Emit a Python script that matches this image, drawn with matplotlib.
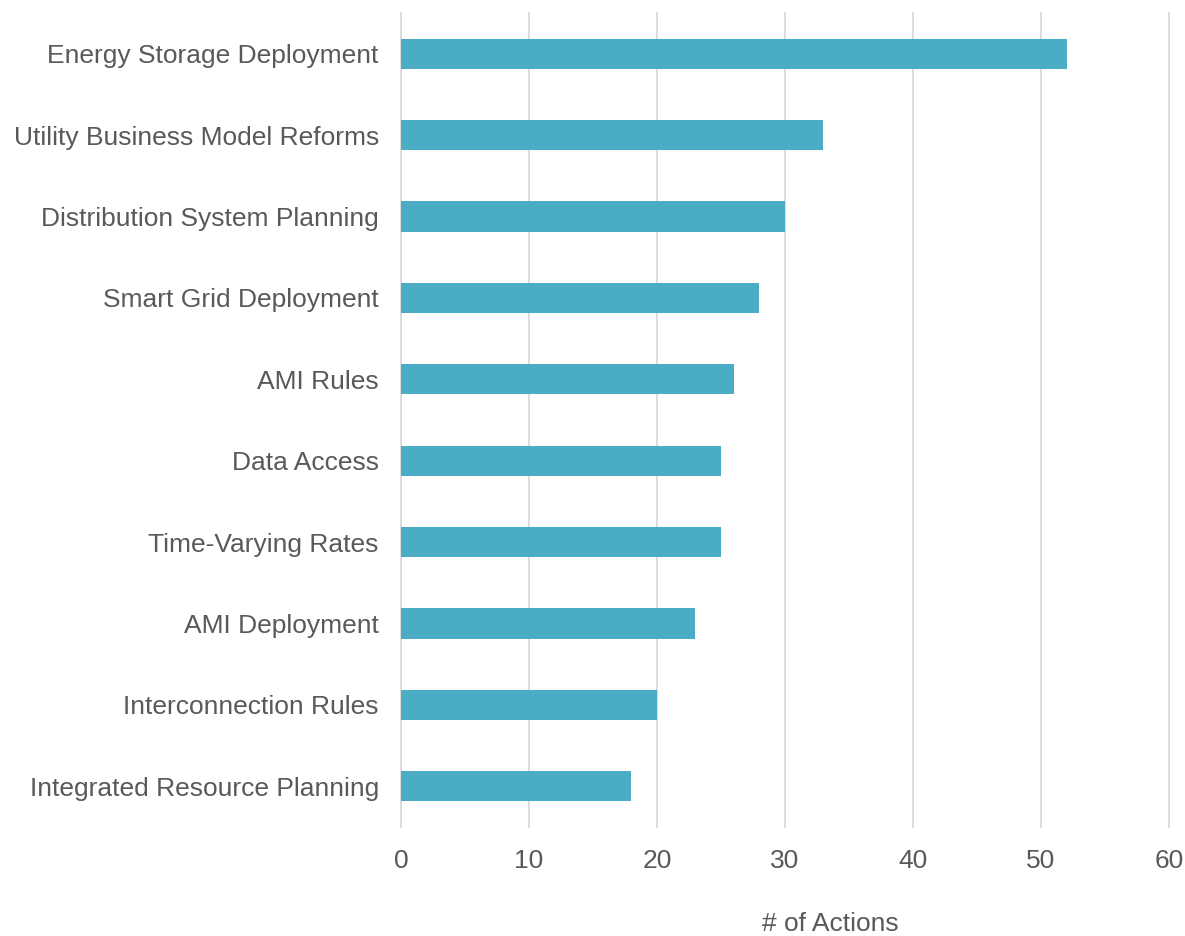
import matplotlib.pyplot as plt

# Dados do gráfico (de cima para baixo)
categorias = [
    "Energy Storage Deployment",
    "Utility Business Model Reforms",
    "Distribution System Planning",
    "Smart Grid Deployment",
    "AMI Rules",
    "Data Access",
    "Time-Varying Rates",
    "AMI Deployment",
    "Interconnection Rules",
    "Integrated Resource Planning",
]
acoes = [52, 33, 30, 28, 26, 25, 25, 23, 20, 18]
ticks_x = [0, 10, 20, 30, 40, 50, 60]

COR_BARRA = "#4BACC6"
COR_TEXTO = "#595959"
COR_GRADE = "#D9D9D9"

plt.rcParams["font.family"] = ["Liberation Sans", "DejaVu Sans"]

fig = plt.figure(figsize=(11.85, 9.36), dpi=100)
ax = fig.add_axes([401 / 1185, 1 - 827 / 936, 768 / 1185, 814 / 936])

posicoes = list(range(len(categorias)))
ax.barh(posicoes, acoes, height=0.37, color=COR_BARRA, zorder=3)

ax.set_ylim(len(categorias) - 0.5, -0.5)
ax.set_xlim(0, 60)
ax.set_yticks(posicoes)
ax.set_yticklabels(categorias)
ax.set_xticks(ticks_x)

ax.tick_params(axis="both", length=0, labelsize=19, colors=COR_TEXTO)
ax.tick_params(axis="y", pad=16)
ax.tick_params(axis="x", pad=15.5)

ax.grid(axis="x", color=COR_GRADE, linewidth=1.3, zorder=0)
for linha in ax.get_xgridlines():
    linha.set_clip_on(False)
for lado in ["top", "right", "bottom", "left"]:
    ax.spines[lado].set_visible(False)

ax.set_xlabel("# of Actions", fontsize=19, color=COR_TEXTO)
ax.xaxis.set_label_coords((830 - 401) / 768, -0.104)

fig.savefig("out.png", dpi=100)
